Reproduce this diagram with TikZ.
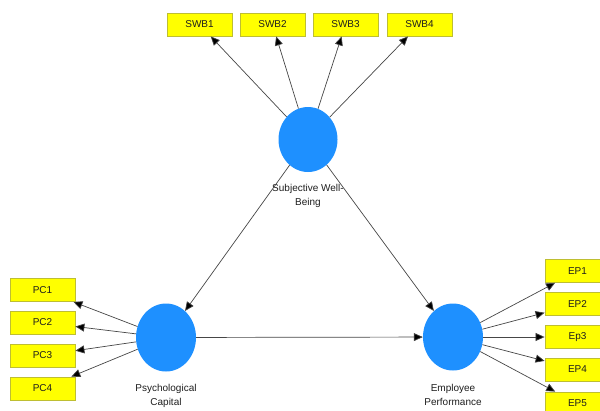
\documentclass[tikz,border=0pt]{standalone}
\usepackage{fontspec}
\setmainfont{Liberation Sans}
\usetikzlibrary{shapes.geometric,arrows.meta}
\definecolor{latent}{RGB}{30,144,255}
\definecolor{indyel}{RGB}{255,255,0}
\definecolor{indborder}{RGB}{190,190,50}
\definecolor{linegray}{RGB}{70,70,70}
\definecolor{txt}{RGB}{30,30,30}
\tikzset{
  latentnode/.style={ellipse,fill=latent,draw=none,inner sep=0pt},
  indbox/.style={rectangle,fill=indyel,draw=indborder,line width=0.8pt,minimum width=65pt,minimum height=23pt,inner sep=0pt,text=txt,font=\fontsize{10}{11}\selectfont},
  lbl/.style={align=center,text=txt,font=\fontsize{10}{14}\selectfont,inner sep=0pt},
  arr/.style={draw=linegray,line width=0.7pt,-{Triangle[length=9pt,width=8pt,fill=black]}}
}
\begin{document}
\begin{tikzpicture}[x=1pt,y=-1pt]
\useasboundingbox (0,0) rectangle (600,410);
\clip (0,0) rectangle (600,410);
% latent variables
\node[latentnode,minimum width=59pt,minimum height=65pt] (swb) at (308,139.5) {};
\node[latentnode,minimum width=60pt,minimum height=68pt] (pc) at (166,337.5) {};
\node[latentnode,minimum width=60pt,minimum height=67pt] (ep) at (453,337) {};
% labels
\node[lbl] (swbl) at (308,196) {Subjective Well-\\Being};
\node[lbl] (pcl) at (166,396) {Psychological\\Capital};
\node[lbl] (epl) at (453,394.5) {Employee\\Performance};
% SWB indicators
\node[indbox] (s1) at (199.5,24.5) {SWB1};
\node[indbox] (s2) at (272.5,24.5) {SWB2};
\node[indbox] (s3) at (345.5,24.5) {SWB3};
\node[indbox] (s4) at (419.5,24.5) {SWB4};
% PC indicators
\node[indbox] (p1) at (42.5,290) {PC1};
\node[indbox] (p2) at (42.5,322.5) {PC2};
\node[indbox] (p3) at (42.5,355.5) {PC3};
\node[indbox] (p4) at (42.5,388.5) {PC4};
% EP indicators
\node[indbox] (e1) at (577.5,271) {EP1};
\node[indbox] (e2) at (577.5,304) {EP2};
\node[indbox] (e3) at (577.5,337) {Ep3};
\node[indbox] (e4) at (577.5,369.5) {EP4};
\node[indbox] (e5) at (577.5,403.5) {EP5};
% arrows
\foreach \t in {s1,s2,s3,s4} \draw[arr] (swb) -- (\t);
\foreach \t in {p1,p2,p3,p4} \draw[arr] (pc) -- (\t);
\foreach \t in {e1,e2,e3,e4,e5} \draw[arr] (ep) -- (\t);
\draw[arr] (swb) -- (pc);
\draw[arr] (swb) -- (ep);
\draw[arr] (pc) -- (ep);
\end{tikzpicture}
\end{document}
